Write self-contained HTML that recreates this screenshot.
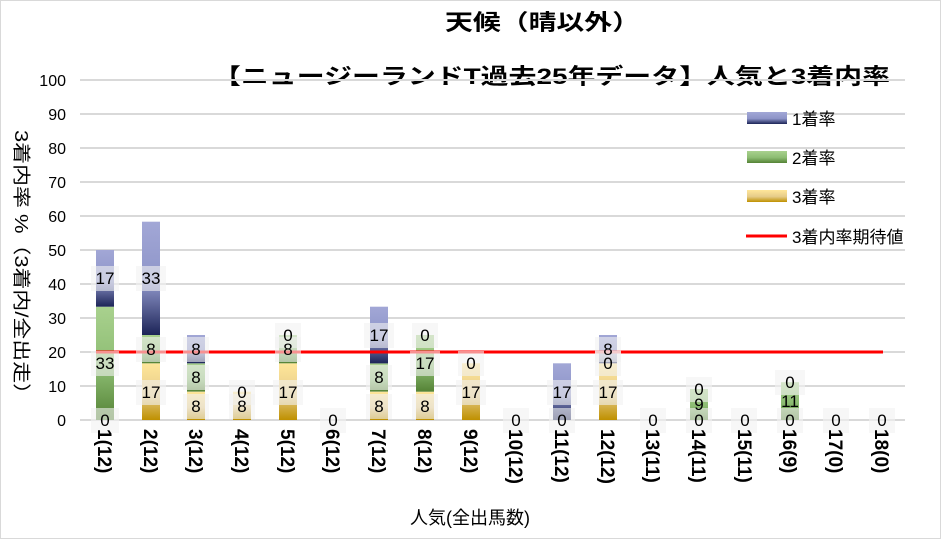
<!DOCTYPE html>
<html><head><meta charset="utf-8"><style>
body{margin:0;background:#fff}
svg{display:block}
text{font-family:"Liberation Sans","Noto Sans CJK JP",sans-serif;fill:#000}
</style></head><body>
<svg width="941" height="539" viewBox="0 0 941 539">
<defs>
<linearGradient id="gb" x1="0" y1="0" x2="0" y2="1"><stop offset="0" stop-color="#a2a7d6"/><stop offset="0.55" stop-color="#8d94c8"/><stop offset="1" stop-color="#1c2457"/></linearGradient>
<linearGradient id="gg" x1="0" y1="0" x2="0" y2="1"><stop offset="0" stop-color="#a9d18e"/><stop offset="0.55" stop-color="#8cbc72"/><stop offset="1" stop-color="#548235"/></linearGradient>
<linearGradient id="gy" x1="0" y1="0" x2="0" y2="1"><stop offset="0" stop-color="#ffe699"/><stop offset="0.55" stop-color="#e6cc8a"/><stop offset="1" stop-color="#bf9000"/></linearGradient>
</defs>
<rect x="0.5" y="0.5" width="940" height="538" fill="#fff" stroke="#d9d9d9"/>
<text x="445" y="30" font-size="22" font-weight="bold" textLength="195" lengthAdjust="spacingAndGlyphs">天候（晴以外）</text>
<text x="213" y="84" font-size="22" font-weight="bold" textLength="677" lengthAdjust="spacingAndGlyphs">【ニュージーランドT過去25年データ】人気と3着内率</text>
<g stroke="#d9d9d9" stroke-width="2">
<line x1="80" y1="420" x2="905" y2="420"/><line x1="80" y1="386" x2="905" y2="386"/><line x1="80" y1="352" x2="905" y2="352"/><line x1="80" y1="318" x2="905" y2="318"/><line x1="80" y1="284" x2="905" y2="284"/><line x1="80" y1="250" x2="905" y2="250"/><line x1="80" y1="216" x2="905" y2="216"/><line x1="80" y1="182" x2="905" y2="182"/><line x1="80" y1="148" x2="905" y2="148"/><line x1="80" y1="114" x2="905" y2="114"/><line x1="80" y1="80" x2="905" y2="80"/>
</g>
<g font-size="16" text-anchor="end">
<text x="66" y="426">0</text><text x="66" y="392">10</text><text x="66" y="358">20</text><text x="66" y="324">30</text><text x="66" y="290">40</text><text x="66" y="256">50</text><text x="66" y="222">60</text><text x="66" y="188">70</text><text x="66" y="154">80</text><text x="66" y="120">90</text><text x="66" y="86">100</text>
</g>
<text transform="translate(15,130) rotate(90)" font-size="18" textLength="275" lengthAdjust="spacingAndGlyphs">3着内率 %（3着内/全出走）</text>
<g>
<rect x="96" y="306.7" width="18" height="113.3" fill="url(#gg)"/><rect x="96" y="250" width="18" height="56.7" fill="url(#gb)"/>
<rect x="142" y="363.3" width="18" height="56.7" fill="url(#gy)"/><rect x="142" y="335" width="18" height="28.3" fill="url(#gg)"/><rect x="142" y="221.7" width="18" height="113.3" fill="url(#gb)"/>
<rect x="187" y="391.7" width="18" height="28.3" fill="url(#gy)"/><rect x="187" y="363.3" width="18" height="28.3" fill="url(#gg)"/><rect x="187" y="335" width="18" height="28.3" fill="url(#gb)"/>
<rect x="233" y="391.7" width="18" height="28.3" fill="url(#gy)"/>
<rect x="279" y="363.3" width="18" height="56.7" fill="url(#gy)"/><rect x="279" y="335" width="18" height="28.3" fill="url(#gg)"/>
<rect x="370" y="391.7" width="18" height="28.3" fill="url(#gy)"/><rect x="370" y="363.3" width="18" height="28.3" fill="url(#gg)"/><rect x="370" y="306.7" width="18" height="56.7" fill="url(#gb)"/>
<rect x="416" y="391.7" width="18" height="28.3" fill="url(#gy)"/><rect x="416" y="335" width="18" height="56.7" fill="url(#gg)"/>
<rect x="462" y="363.3" width="18" height="56.7" fill="url(#gy)"/>
<rect x="553" y="363.3" width="18" height="56.7" fill="url(#gb)"/>
<rect x="599" y="363.3" width="18" height="56.7" fill="url(#gy)"/><rect x="599" y="335" width="18" height="28.3" fill="url(#gb)"/>
<rect x="690" y="389" width="18" height="31" fill="url(#gg)"/>
<rect x="781" y="382.2" width="18" height="37.8" fill="url(#gg)"/>
</g>
<line x1="96" y1="352" x2="883" y2="352" stroke="#ff0000" stroke-width="3"/>
<g font-size="17" text-anchor="middle">
<g fill="rgba(242,242,242,0.6)">
<rect x="91" y="408" width="28" height="25"/><rect x="91" y="351" width="28" height="25"/><rect x="91" y="266" width="28" height="25"/>
<rect x="136" y="380" width="30" height="25"/><rect x="136" y="337" width="30" height="25"/><rect x="136" y="266" width="30" height="25"/>
<rect x="183" y="394" width="26" height="25"/><rect x="183" y="365" width="26" height="25"/><rect x="183" y="337" width="26" height="25"/>
<rect x="229" y="394" width="26" height="25"/><rect x="229" y="380" width="26" height="25"/>
<rect x="273" y="380" width="30" height="25"/><rect x="275" y="337" width="26" height="25"/><rect x="275" y="323" width="26" height="25"/>
<rect x="320" y="408" width="26" height="25"/>
<rect x="366" y="394" width="26" height="25"/><rect x="366" y="365" width="26" height="25"/><rect x="364" y="323" width="30" height="25"/>
<rect x="412" y="394" width="26" height="25"/><rect x="410" y="351" width="30" height="25"/><rect x="412" y="323" width="26" height="25"/>
<rect x="456" y="380" width="30" height="25"/><rect x="458" y="351" width="26" height="25"/>
<rect x="503" y="408" width="26" height="25"/>
<rect x="549" y="408" width="26" height="25"/><rect x="547" y="380" width="30" height="25"/>
<rect x="593" y="380" width="30" height="25"/><rect x="595" y="351" width="26" height="25"/><rect x="595" y="337" width="26" height="25"/>
<rect x="640" y="408" width="26" height="25"/>
<rect x="686" y="408" width="26" height="25"/><rect x="686" y="377" width="26" height="25"/>
<rect x="731" y="408" width="26" height="25"/>
<rect x="777" y="408" width="26" height="25"/><rect x="775" y="370" width="30" height="25"/>
<rect x="823" y="408" width="26" height="25"/><rect x="869" y="408" width="26" height="25"/>
</g>
<text x="105" y="426">0</text><text x="105" y="369">33</text><text x="105" y="284">17</text>
<text x="151" y="398">17</text><text x="151" y="355">8</text><text x="151" y="284">33</text>
<text x="196" y="412">8</text><text x="196" y="383">8</text><text x="196" y="355">8</text>
<text x="242" y="412" fill="#999">8</text><text x="242" y="398">0</text>
<text x="288" y="398">17</text><text x="288" y="355">8</text><text x="288" y="341">0</text>
<text x="333" y="426">0</text>
<text x="379" y="412">8</text><text x="379" y="383">8</text><text x="379" y="341">17</text>
<text x="425" y="412">8</text><text x="425" y="369">17</text><text x="425" y="341">0</text>
<text x="471" y="398">17</text><text x="471" y="369">0</text>
<text x="516" y="426">0</text>
<text x="562" y="426">0</text><text x="562" y="398">17</text>
<text x="608" y="398">17</text><text x="608" y="369">0</text><text x="608" y="355">8</text>
<text x="653" y="426">0</text>
<text x="699" y="426">0</text><text x="699" y="410">9</text><text x="699" y="395">0</text>
<text x="745" y="426">0</text>
<text x="790" y="426">0</text><text x="790" y="407">11</text><text x="790" y="388">0</text>
<text x="836" y="426">0</text><text x="882" y="426">0</text>
</g>
<g font-size="19" font-weight="bold">
<text transform="translate(98,429) rotate(90)">1(12)</text>
<text transform="translate(144,429) rotate(90)">2(12)</text>
<text transform="translate(189,429) rotate(90)">3(12)</text>
<text transform="translate(235,429) rotate(90)">4(12)</text>
<text transform="translate(281,429) rotate(90)">5(12)</text>
<text transform="translate(326,429) rotate(90)">6(12)</text>
<text transform="translate(372,429) rotate(90)">7(12)</text>
<text transform="translate(418,429) rotate(90)">8(12)</text>
<text transform="translate(464,429) rotate(90)">9(12)</text>
<text transform="translate(509,429) rotate(90)">10(12)</text>
<text transform="translate(555,429) rotate(90)">11(12)</text>
<text transform="translate(601,429) rotate(90)">12(12)</text>
<text transform="translate(646,429) rotate(90)">13(11)</text>
<text transform="translate(692,429) rotate(90)">14(11)</text>
<text transform="translate(738,429) rotate(90)">15(11)</text>
<text transform="translate(783,429) rotate(90)">16(9)</text>
<text transform="translate(829,429) rotate(90)">17(0)</text>
<text transform="translate(875,429) rotate(90)">18(0)</text>
</g>
<text x="470" y="524" font-size="18" text-anchor="middle">人気(全出馬数)</text>
<rect x="747" y="112" width="40" height="12" fill="url(#gb)"/><text x="792" y="125" font-size="17">1着率</text>
<rect x="747" y="151" width="40" height="12" fill="url(#gg)"/><text x="792" y="164" font-size="17">2着率</text>
<rect x="747" y="190" width="40" height="12" fill="url(#gy)"/><text x="792" y="203" font-size="17">3着率</text>
<line x1="746" y1="236" x2="787" y2="236" stroke="#ff0000" stroke-width="3"/><text x="792" y="243" font-size="17">3着内率期待値</text>
</svg>
</body></html>
